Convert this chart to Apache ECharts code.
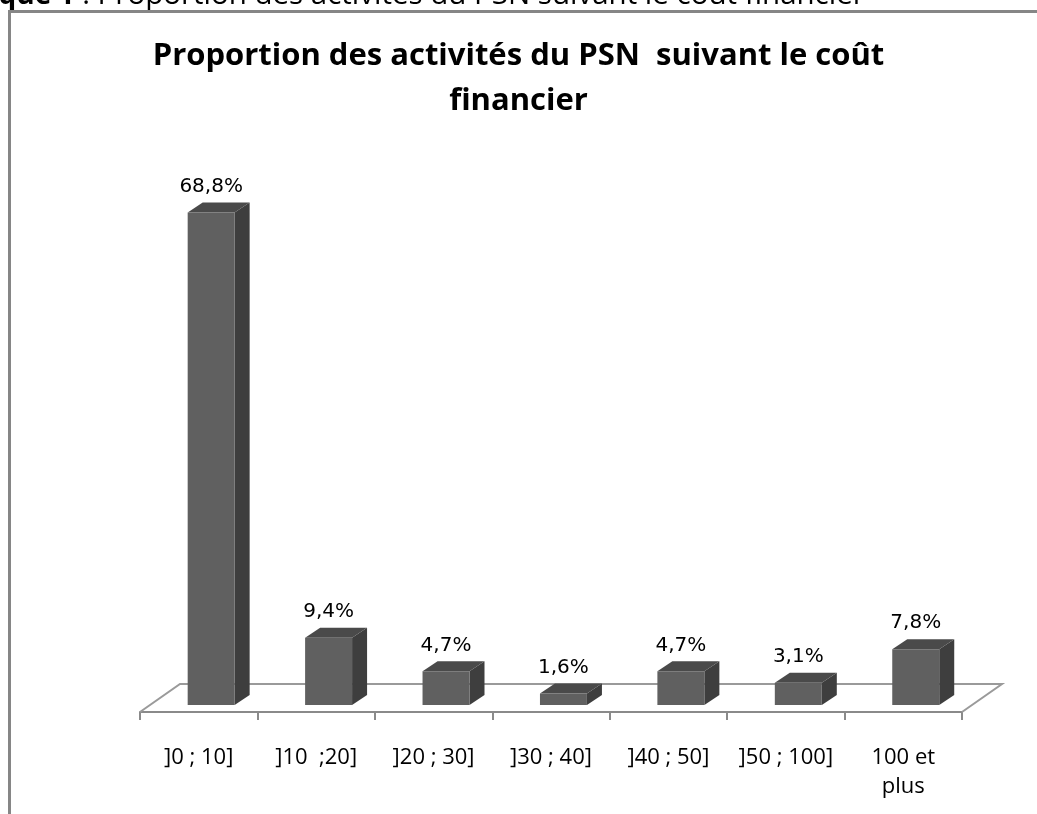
<!DOCTYPE html>
<html><head><meta charset="utf-8">
<script src="https://cdn.jsdelivr.net/npm/echarts@6/dist/echarts.min.js"></script>
<style>html,body{margin:0;padding:0;background:#fff}#c{width:1037px;height:814px}</style>
</head><body><div id="c"></div>
<script>
const categories = [']0 ; 10]', ']10  ;20]', ']20 ; 30]', ']30 ; 40]', ']40 ; 50]', ']50 ; 100]', '100 et\nplus'];
const values = [68.8, 9.4, 4.7, 1.6, 4.7, 3.1, 7.8];
const valueLabels = ['68,8%', '9,4%', '4,7%', '1,6%', '4,7%', '3,1%', '7,8%'];
const titleText = 'Proportion des activités du PSN  suivant le coût\nfinancier';
const captionBold = 'Graphique 1';
const captionRest = ' : Proportion des activités du PSN suivant le coût financier';

const chart = echarts.init(document.getElementById('c'));
const LIFT = 7; // bars stand slightly behind the floor's front edge

function renderBar(params, api) {
  const i = api.value(0), v = api.value(1);
  const base = api.coord([i, 0]);
  const top = api.coord([i, v]);
  const bw = api.size([1, 0])[0];
  const l = base[0] - bw * 0.094, w = bw * 0.4, r = l + w;
  const dx = 15, dy = 10;
  const yb = base[1] - LIFT, yt = top[1] - LIFT;
  return {type: 'group', children: [
    {type: 'polygon', shape: {points: [[r, yb], [r + dx, yb - dy], [r + dx, yt - dy], [r, yt]]}, style: {fill: '#3e3e3e'}},
    {type: 'polygon', shape: {points: [[l, yt], [l + dx, yt - dy], [r + dx, yt - dy], [r, yt]]}, style: {fill: '#4a4a4a'}},
    {type: 'rect', shape: {x: l, y: yt, width: w, height: yb - yt}, style: {fill: '#606060'}},
    {type: 'text', style: {text: valueLabels[params.dataIndex], x: l + w / 2, y: yt - 16, align: 'center', verticalAlign: 'bottom', font: '20px "DejaVu Sans"', fill: '#000'}}
  ]};
}

function renderFloor(params, api) {
  const n = categories.length;
  const p0 = api.coord([0, 0]), pn = api.coord([n - 1, 0]);
  const bw = api.size([1, 0])[0];
  const x0 = p0[0] - bw / 2, x1 = pn[0] + bw / 2, y = p0[1];
  return {type: 'polyline', shape: {points: [[x0, y], [x0 + 40, y - 28], [x1 + 40, y - 28], [x1, y]]}, style: {stroke: '#9a9a9a', lineWidth: 2, fill: null}};
}

chart.setOption({
  animation: false,
  backgroundColor: '#fff',
  title: {
    text: titleText, left: 'center', top: 29,
    textStyle: {fontFamily: 'Open Sans', fontWeight: 'bold', fontSize: 31, lineHeight: 45, color: '#000'}
  },
  grid: {left: 140, right: 75, top: 211, bottom: 102},
  xAxis: {
    type: 'category', data: categories,
    axisLine: {lineStyle: {color: '#8a8a8a', width: 2}},
    axisTick: {show: true, length: 8, lineStyle: {color: '#8a8a8a', width: 2}},
    axisLabel: {margin: 31, interval: 0, fontFamily: 'Open Sans', fontSize: 22, lineHeight: 29, color: '#000'},
    splitLine: {show: false}
  },
  yAxis: {type: 'value', min: 0, max: 70, show: false},
  graphic: [
    {type: 'rect', shape: {x: 9.5, y: 11.5, width: 1200, height: 1000}, style: {stroke: '#868686', lineWidth: 3, fill: null}, z: 10},
    {type: 'text', x: -96, y: 11, style: {
      text: '{b|' + captionBold + '}{n|' + captionRest + '}',
      verticalAlign: 'bottom',
      rich: {b: {fontFamily: 'Open Sans', fontWeight: 'bold', fontSize: 28, fill: '#000'}, n: {fontFamily: 'Open Sans', fontSize: 29.5, fill: '#000'}}
    }, z: 5}
  ],
  series: [
    {type: 'custom', z: 1, renderItem: renderFloor, data: [[0, 0]], silent: true},
    {type: 'custom', z: 2, renderItem: renderBar, data: values.map((v, i) => [i, v])}
  ]
});
</script>
</body></html>
